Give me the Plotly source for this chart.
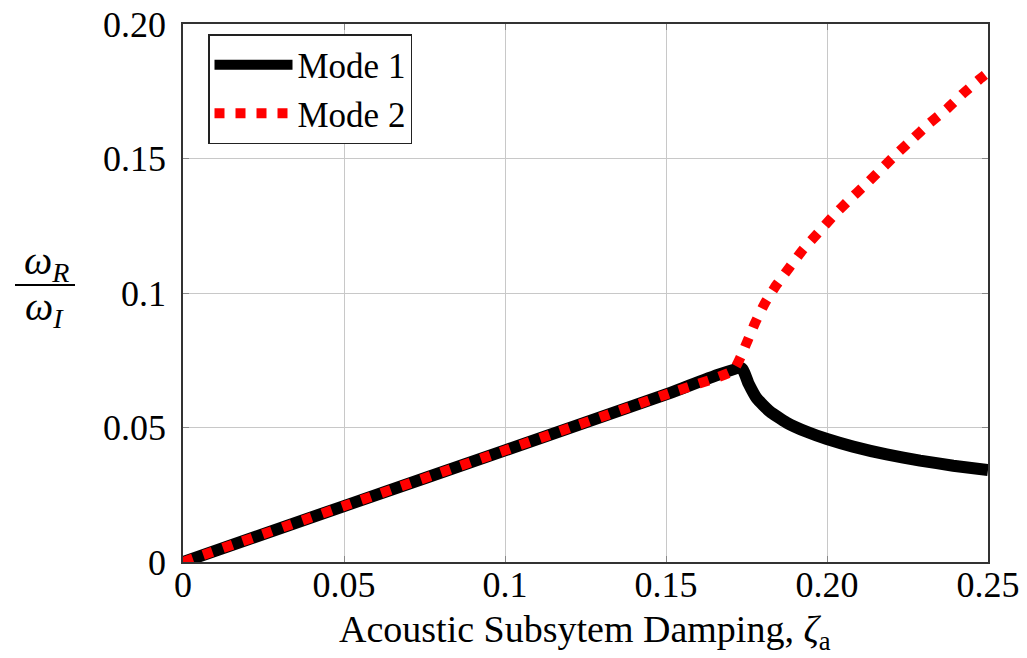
import plotly.graph_objects as go

# Data
mode1_x = [0, 0.05, 0.1, 0.15, 0.1735, 0.1756, 0.1782, 0.1823, 0.1875, 0.1937, 0.20, 0.2081, 0.2185, 0.2289, 0.2392, 0.25]
mode1_y = [0, 0.0208, 0.0415, 0.0623, 0.0720, 0.0664, 0.0608, 0.0559, 0.0518, 0.0484, 0.0457, 0.0429, 0.0400, 0.0377, 0.0358, 0.0342]

mode2_x = [0, 0.05, 0.1, 0.15, 0.1709, 0.1750, 0.1776, 0.1807, 0.1843, 0.1885, 0.1926, 0.1973, 0.2019, 0.2069,
           0.2118, 0.2168, 0.2216, 0.2268, 0.2318, 0.2372, 0.2423, 0.2473, 0.25]
mode2_y = [0, 0.0208, 0.0415, 0.0623, 0.0712, 0.0813, 0.0887, 0.0962, 0.1030, 0.1098, 0.1162, 0.1224, 0.1286, 0.1346,
           0.1401, 0.1460, 0.1517, 0.1575, 0.1631, 0.1684, 0.1742, 0.1794, 0.1820]

x_tickvals = [0, 0.05, 0.1, 0.15, 0.20, 0.25]
x_ticktext = ["0", "0.05", "0.1", "0.15", "0.20", "0.25"]
y_tickvals = [0, 0.05, 0.1, 0.15, 0.20]
y_ticktext = ["0", "0.05", "0.1", "0.15", "0.20"]

FONT = "Liberation Serif"

fig = go.Figure()
fig.add_trace(go.Scatter(x=mode1_x, y=mode1_y, mode="lines", name="Mode 1",
                         line=dict(color="black", width=12, shape="spline", smoothing=0.4)))
fig.add_trace(go.Scatter(x=mode2_x, y=mode2_y, mode="lines", name="Mode 2",
                         line=dict(color="#ff0000", width=10, dash="10px,11px", shape="spline", smoothing=0.4)))

L, R, T, B = 183, 39, 24, 96
W, H = 1027, 658
pw = W - L - R
ph = H - T - B

def px_x(px):
    return (px - L) / pw

def px_y(py):
    return (H - B - py) / ph

axis_common = dict(
    showline=True, linecolor="#333333", linewidth=1.5, mirror="ticks",
    showgrid=True, gridcolor="#c8c8c8", gridwidth=1,
    ticks="inside", ticklen=6, tickcolor="#888888",
    zeroline=False, automargin=False,
    tickfont=dict(family=FONT, size=36, color="black"),
)

fig.update_xaxes(range=[0, 0.25], tickvals=x_tickvals, ticktext=x_ticktext, ticklabelstandoff=-10,
                 **axis_common)
fig.update_yaxes(range=[0, 0.20], tickvals=y_tickvals, ticktext=y_ticktext, ticklabelstandoff=8,
                 **axis_common)

# x-axis title
fig.add_annotation(x=px_x(585), y=px_y(632), xref="paper", yref="paper",
                   text="Acoustic Subsytem Damping, <i>ζ</i><sub>a</sub>", showarrow=False,
                   font=dict(family=FONT, size=38, color="black"), xanchor="center", yanchor="middle")

# y-axis title as a fraction
fig.add_annotation(x=px_x(46), y=px_y(263), xref="paper", yref="paper",
                   text="<i>ω<sub>R</sub></i>", showarrow=False,
                   font=dict(family=FONT, size=40, color="black"), xanchor="center", yanchor="middle")
fig.add_annotation(x=px_x(44), y=px_y(309), xref="paper", yref="paper",
                   text="<i>ω<sub>I</sub></i>", showarrow=False,
                   font=dict(family=FONT, size=40, color="black"), xanchor="center", yanchor="middle")
fig.add_shape(type="line", xref="paper", yref="paper",
              x0=px_x(15), x1=px_x(75), y0=px_y(285), y1=px_y(285),
              line=dict(color="black", width=2))

fig.update_layout(
    width=W, height=H,
    margin=dict(l=L, r=R, t=T, b=B, autoexpand=False),
    paper_bgcolor="white", plot_bgcolor="white",
    font=dict(family=FONT, color="black"),
    legend=dict(x=px_x(208), y=px_y(34), xanchor="left", yanchor="top",
                bgcolor="white", bordercolor="#222222", borderwidth=1.5,
                font=dict(family=FONT, size=35, color="black"),
                itemwidth=78, tracegroupgap=0),
    showlegend=True,
)

fig.write_html("out.html")
